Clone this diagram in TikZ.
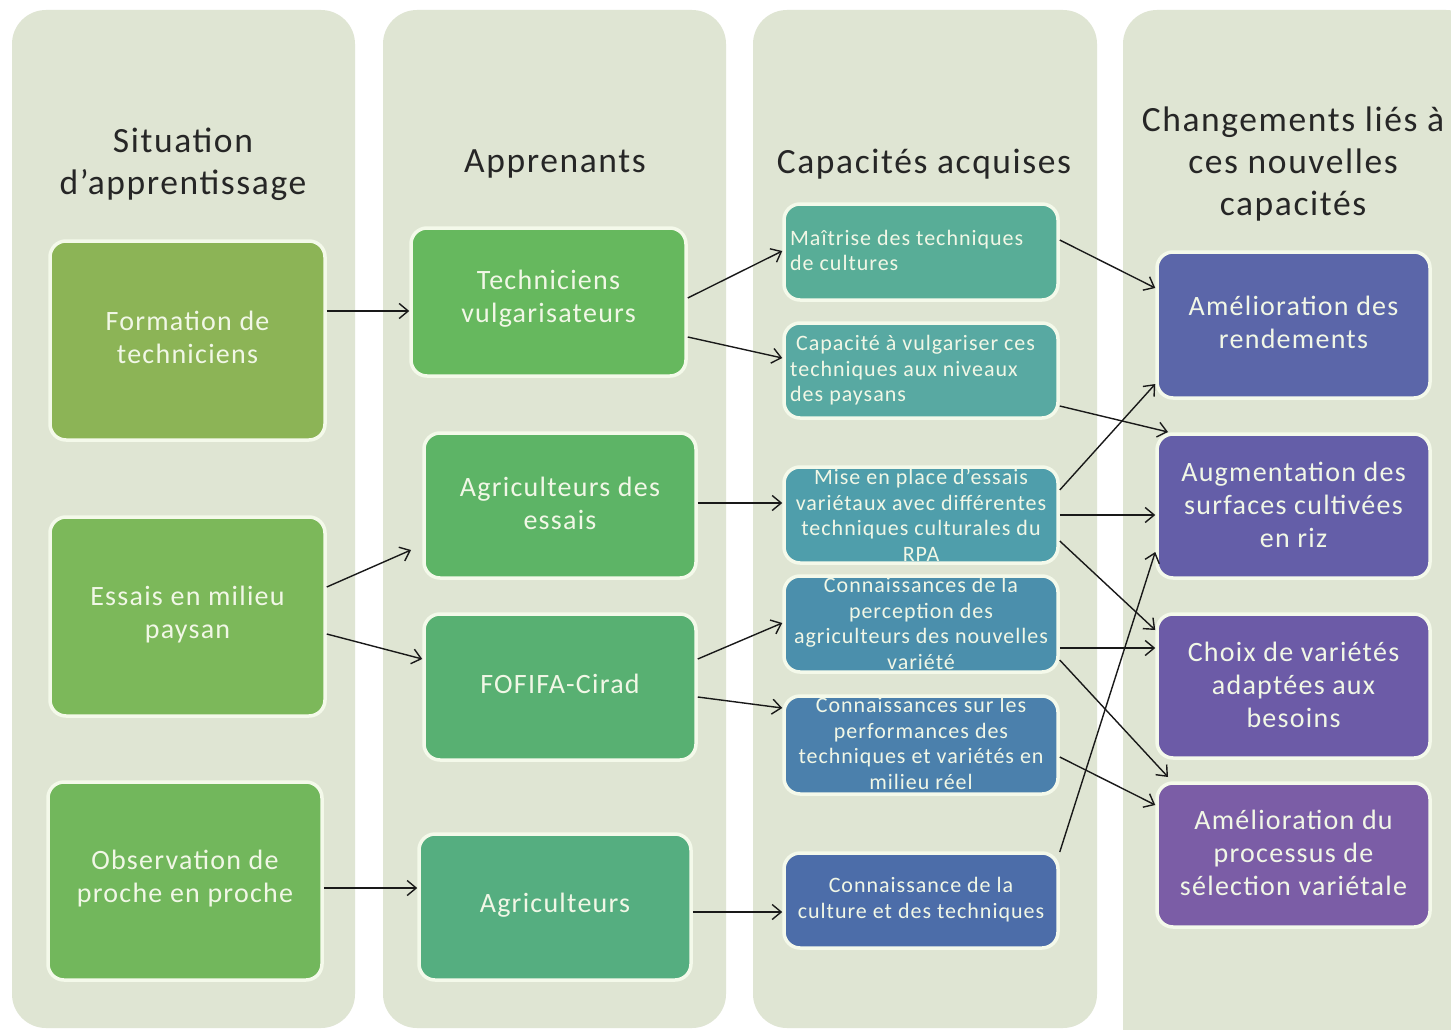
\documentclass[tikz,border=0pt]{standalone}
\usepackage{fontspec}
\setmainfont{Carlito}[LetterSpace=4.5]
\usetikzlibrary{arrows.meta}
\definecolor{colbg}{HTML}{DFE5D3}
\definecolor{bordc}{HTML}{F4F9EA}
\definecolor{txtc}{HTML}{F1F7E6}
\definecolor{titc}{HTML}{262626}
\definecolor{cB1}{HTML}{8CB456}
\definecolor{cB2}{HTML}{7CB85A}
\definecolor{cB3}{HTML}{72B75C}
\definecolor{cA1}{HTML}{66B85E}
\definecolor{cA2}{HTML}{5DB466}
\definecolor{cA3}{HTML}{58B072}
\definecolor{cA4}{HTML}{55AE80}
\definecolor{cC1}{HTML}{58AD97}
\definecolor{cC2}{HTML}{58A9A2}
\definecolor{cC3}{HTML}{4F9EAB}
\definecolor{cC4}{HTML}{4B8FAC}
\definecolor{cC5}{HTML}{4B80AC}
\definecolor{cC6}{HTML}{4C6DA9}
\definecolor{cD1}{HTML}{5B66A9}
\definecolor{cD2}{HTML}{645EA8}
\definecolor{cD3}{HTML}{6C5BA7}
\definecolor{cD4}{HTML}{7B5DA6}
\begin{document}
\begin{tikzpicture}[x=1pt,y=-1pt,
  column/.style={fill=colbg,rounded corners=34pt},
  box/.style={draw=bordc,line width=3.5pt,rounded corners=16pt,fill=#1,inner sep=0pt},
  bigtxt/.style={text=txtc,align=center,font=\fontsize{28}{33}\selectfont,inner sep=0pt},
  smalltxt/.style={text=txtc,font=\fontsize{22}{25.5}\selectfont,inner sep=0pt},
  title/.style={text=titc,align=center,font=\fontsize{35.5}{42}\selectfont,inner sep=0pt},
  conn/.style={draw=black!90,line width=1.4pt,-{Straight Barb[length=9pt,width=15pt]}}
]
\useasboundingbox (0,0) rectangle (1451,1030);
\fill[white] (0,0) rectangle (1451,1030);
% column backgrounds
\begin{scope}
\clip (0,0) rectangle (1451,1030);
\fill[column] (12,10) rectangle (355,1028);
\fill[column] (383,10) rectangle (726,1028);
\fill[column] (753,10) rectangle (1097,1028);
\fill[column] (1123,10) rectangle (1480,1060);
\end{scope}
% titles
\node[title] (t1) at (183,164) {Situation\\d’apprentissage};
\node[title] (t2) at (555,164) {Apprenants};
\node[title] (t3) at (924,164) {Capacités acquises};
\node[title] (t4) at (1293,164) {Changements liés à\\ces nouvelles\\capacités};
% column 1
\node[box=cB1,minimum width=275pt,minimum height=199pt] (b1) at (187.5,340.5) {};
\node[box=cB2,minimum width=275pt,minimum height=199pt] (b2) at (187.5,616.5) {};
\node[box=cB3,minimum width=274pt,minimum height=198pt] (b3) at (185,881) {};
\node[bigtxt] at ([yshift=3pt]b1.center) {Formation de\\techniciens};
\node[bigtxt] at ([yshift=2pt]b2.center) {Essais en milieu\\paysan};
\node[bigtxt] at ([yshift=2pt]b3.center) {Observation de\\proche en proche};
% column 2
\node[box=cA1,minimum width=275pt,minimum height=148pt] (a1) at (548.5,302) {};
\node[box=cA2,minimum width=272pt,minimum height=145pt] (a2) at (560,505.5) {};
\node[box=cA3,minimum width=272pt,minimum height=146pt] (a3) at (560,687) {};
\node[box=cA4,minimum width=272pt,minimum height=146pt] (a4) at (555,907) {};
\node[bigtxt] at ([yshift=3pt]a1.center) {Techniciens\\vulgarisateurs};
\node[bigtxt] at ([yshift=2pt]a2.center) {Agriculteurs des\\essais};
\node[bigtxt] at ([yshift=3pt]a3.center) {FOFIFA-Cirad};
\node[bigtxt] at ([yshift=2pt]a4.center) {Agriculteurs};
% column 3
\node[box=cC1,minimum width=274pt,minimum height=96pt] (c1) at (921,252) {};
\node[box=cC2,minimum width=274pt,minimum height=95pt] (c2) at (921,370.5) {};
\node[box=cC3,minimum width=274pt,minimum height=96pt] (c3) at (921,515) {};
\node[box=cC4,minimum width=274pt,minimum height=96pt] (c4) at (921,624) {};
\node[box=cC5,minimum width=274pt,minimum height=98pt] (c5) at (921,745) {};
\node[box=cC6,minimum width=274pt,minimum height=95pt] (c6) at (921,900.5) {};
\node[smalltxt,align=left,anchor=west] at (790,250.5) {Maîtrise des techniques\\de cultures};
\node[smalltxt,align=left,anchor=west] at (790,370.5) {~Capacité à vulgariser ces\\techniques aux niveaux\\des paysans};
\node[smalltxt,align=center] at (921,515) {Mise en place d’essais\\variétaux avec différentes\\techniques culturales du\\RPA};
\node[smalltxt,align=center] at (921,623.5) {Connaissances de la\\perception des\\agriculteurs des nouvelles\\variété};
\node[smalltxt,align=center] at (921,743.5) {Connaissances sur les\\performances des\\techniques et variétés en\\milieu réel};
\node[smalltxt,align=center] at (921,899.5) {Connaissance de la\\culture et des techniques};
% column 4
\node[box=cD1,minimum width=273pt,minimum height=146pt] (d1) at (1293.5,325) {};
\node[box=cD2,minimum width=273pt,minimum height=144pt] (d2) at (1293.5,506) {};
\node[box=cD3,minimum width=273pt,minimum height=144pt] (d3) at (1293.5,686) {};
\node[box=cD4,minimum width=273pt,minimum height=144pt] (d4) at (1293.5,855) {};
\node[bigtxt] at ([yshift=3pt]d1.center) {Amélioration des\\rendements};
\node[bigtxt] at ([yshift=1.5pt]d2.center) {Augmentation des\\surfaces cultivées\\en riz};
\node[bigtxt] at ([yshift=1.5pt]d3.center) {Choix de variétés\\adaptées aux\\besoins};
\node[bigtxt] at ([yshift=2pt]d4.center) {Amélioration du\\processus de\\sélection variétale};
% free ends
\coordinate (a2in) at (411,550);
\coordinate (d2top) at (1168,432);
\coordinate (d4top) at (1168,777);
% connectors
\draw[conn] (b1.east |- 0,311) -- (a1.west |- 0,311);
\draw[conn] (b2.east |- 0,587) -- (a2in);
\draw[conn] (b2.east |- 0,634) -- (a3.west |- 0,659);
\draw[conn] (b3.east |- 0,888) -- (a4.west |- 0,888);
\draw[conn] (a1.east |- 0,298) -- (c1.west |- 0,251);
\draw[conn] (a1.east |- 0,337) -- (c2.west |- 0,358);
\draw[conn] (a2.east |- 0,503) -- (c3.west |- 0,503);
\draw[conn] (a3.east |- 0,659) -- (c4.west |- 0,623);
\draw[conn] (a3.east |- 0,697) -- (c5.west |- 0,708);
\draw[conn] (a4.east |- 0,912) -- (c6.west |- 0,912);
\draw[conn] (c1.east |- 0,240) -- (d1.west |- 0,288);
\draw[conn] (c2.east |- 0,406) -- (d2top);
\draw[conn] (c3.east |- 0,490) -- (d1.west |- 0,384);
\draw[conn] (c3.east |- 0,515) -- (d2.west |- 0,515);
\draw[conn] (c3.east |- 0,541) -- (d3.west |- 0,630);
\draw[conn] (c4.east |- 0,648) -- (d3.west |- 0,648);
\draw[conn] (c4.east |- 0,660) -- (d4top);
\draw[conn] (c5.east |- 0,757) -- (d4.west |- 0,805);
\draw[conn] (c6.east |- 0,852) -- (d2.west |- 0,552);
\end{tikzpicture}
\end{document}
